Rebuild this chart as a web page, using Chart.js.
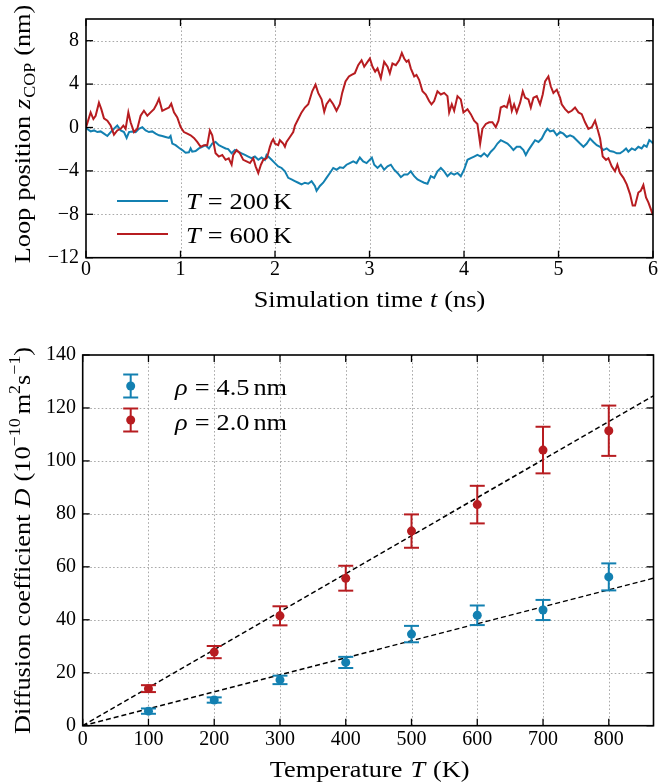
<!DOCTYPE html>
<html>
<head>
<meta charset="utf-8">
<script src="https://cdn.jsdelivr.net/npm/chart.js@4.4.1/dist/chart.umd.min.js"></script>
<style>
  html, body { margin: 0; padding: 0; background: #fff; }
  #wrap { position: relative; width: 658px; height: 783px; }
  canvas { position: absolute; left: 0; }
  #loopChart { top: 0; }
  #diffChart { top: 320px; }
</style>
</head>
<body>
<div id="wrap">
  <canvas id="loopChart" width="658" height="320"></canvas>
  <canvas id="diffChart" width="658" height="463"></canvas>
</div>
<script>
// loop position vs. time, T = 200 K
const tBlue = [0.000, 0.049, 0.085, 0.120, 0.155, 0.190, 0.226, 0.261, 0.296, 0.331, 0.367, 0.402, 0.430, 0.455, 0.490, 0.525, 0.560, 0.596, 0.631, 0.666,
  0.701, 0.737, 0.772, 0.807, 0.842, 0.878, 0.895, 0.913, 0.948, 0.983, 1.019, 1.054, 1.089, 1.107, 1.124, 1.160, 1.195, 1.230, 1.265, 1.301,
  1.336, 1.371, 1.406, 1.442, 1.477, 1.505, 1.541, 1.576, 1.611, 1.646, 1.682, 1.717, 1.752, 1.787, 1.823, 1.858, 1.893, 1.911, 1.928, 1.964,
  1.999, 2.034, 2.070, 2.105, 2.140, 2.175, 2.210, 2.246, 2.281, 2.316, 2.352, 2.387, 2.422, 2.440, 2.475, 2.510, 2.545, 2.581, 2.616, 2.651,
  2.686, 2.722, 2.757, 2.792, 2.828, 2.863, 2.898, 2.933, 2.969, 3.025, 3.050, 3.085, 3.120, 3.155, 3.191, 3.226, 3.261, 3.296, 3.332, 3.367,
  3.402, 3.437, 3.473, 3.508, 3.543, 3.578, 3.614, 3.649, 3.684, 3.719, 3.755, 3.790, 3.825, 3.860, 3.896, 3.931, 3.966, 4.001, 4.037, 4.072,
  4.107, 4.142, 4.178, 4.213, 4.248, 4.284, 4.319, 4.354, 4.389, 4.425, 4.460, 4.495, 4.523, 4.558, 4.594, 4.629, 4.654, 4.682, 4.717, 4.752,
  4.788, 4.823, 4.858, 4.883, 4.911, 4.946, 4.982, 5.017, 5.052, 5.087, 5.122, 5.158, 5.193, 5.228, 5.264, 5.299, 5.334, 5.369, 5.405, 5.440,
  5.475, 5.510, 5.545, 5.581, 5.616, 5.651, 5.686, 5.715, 5.739, 5.775, 5.810, 5.845, 5.880, 5.905, 5.933, 5.961, 5.986, 6.000];
const zBlue = [-0.06, -0.36, -0.27, -0.42, -0.36, -0.57, -0.78, -0.42, -0.12, 0.18, -0.27, -0.42, -0.96, -0.42, -0.36, -0.42, -0.12, 0.03, -0.27, -0.42,
  -0.36, -0.57, -0.72, -0.78, -0.87, -0.96, -0.78, -1.48, -1.63, -1.87, -2.08, -2.32, -2.29, -1.93, -2.23, -2.17, -1.93, -1.78, -1.63, -1.93,
  -1.48, -1.33, -1.63, -1.78, -1.93, -1.99, -2.38, -2.08, -2.23, -2.38, -2.53, -2.68, -2.83, -2.68, -2.98, -2.77, -2.98, -2.53, -2.68, -2.98,
  -3.28, -3.58, -3.73, -4.04, -4.64, -4.79, -4.94, -5.09, -5.24, -5.09, -5.18, -4.94, -5.39, -5.84, -5.39, -5.09, -4.64, -4.19, -3.73, -3.89,
  -3.67, -3.73, -3.43, -3.28, -3.13, -3.28, -2.77, -3.13, -3.28, -2.77, -3.43, -3.73, -3.43, -3.89, -3.58, -3.43, -3.89, -4.19, -4.58, -4.34,
  -4.34, -4.04, -4.49, -4.79, -4.94, -5.09, -5.18, -4.49, -4.64, -4.04, -3.73, -4.04, -4.49, -4.19, -4.34, -4.19, -4.49, -3.89, -2.98, -2.83,
  -2.68, -2.53, -2.68, -2.38, -2.68, -2.23, -1.93, -1.48, -1.17, -1.33, -1.48, -1.78, -2.08, -1.78, -1.78, -2.08, -2.53, -2.08, -1.63, -1.17,
  -1.33, -1.02, -0.42, -0.12, -0.36, -0.27, -0.72, -0.42, -0.57, -0.87, -0.72, -0.87, -1.17, -1.48, -1.78, -1.48, -1.02, -1.33, -1.63, -1.78,
  -2.08, -1.93, -2.17, -2.23, -2.38, -2.38, -2.17, -1.93, -2.23, -1.93, -2.08, -1.78, -1.93, -1.63, -1.78, -1.17, -1.33, -1.48];

// loop position vs. time, T = 600 K
const tRed = [0.000, 0.049, 0.078, 0.102, 0.137, 0.162, 0.190, 0.226, 0.261, 0.296, 0.331, 0.367, 0.395, 0.419, 0.448, 0.472, 0.508, 0.543, 0.578, 0.613,
  0.649, 0.684, 0.719, 0.747, 0.772, 0.807, 0.842, 0.878, 0.902, 0.931, 0.966, 1.001, 1.036, 1.072, 1.107, 1.142, 1.177, 1.213, 1.248, 1.283,
  1.311, 1.336, 1.371, 1.406, 1.442, 1.477, 1.510, 1.541, 1.558, 1.594, 1.629, 1.664, 1.699, 1.735, 1.770, 1.795, 1.823, 1.851, 1.876, 1.911,
  1.928, 1.946, 1.964, 1.981, 1.999, 2.034, 2.052, 2.087, 2.105, 2.122, 2.158, 2.193, 2.211, 2.246, 2.281, 2.316, 2.352, 2.394, 2.429, 2.457,
  2.493, 2.521, 2.545, 2.581, 2.616, 2.651, 2.686, 2.711, 2.746, 2.782, 2.810, 2.845, 2.880, 2.916, 2.944, 2.979, 3.004, 3.032, 3.060, 3.085,
  3.120, 3.155, 3.191, 3.215, 3.243, 3.279, 3.314, 3.342, 3.367, 3.392, 3.413, 3.437, 3.473, 3.497, 3.525, 3.561, 3.596, 3.631, 3.656, 3.684,
  3.719, 3.755, 3.790, 3.825, 3.843, 3.871, 3.896, 3.931, 3.966, 3.994, 4.037, 4.072, 4.107, 4.142, 4.171, 4.195, 4.231, 4.266, 4.301, 4.336,
  4.365, 4.389, 4.425, 4.453, 4.481, 4.506, 4.530, 4.558, 4.594, 4.622, 4.647, 4.682, 4.707, 4.735, 4.770, 4.805, 4.833, 4.858, 4.893, 4.918,
  4.946, 4.982, 5.017, 5.034, 5.070, 5.105, 5.140, 5.175, 5.211, 5.246, 5.281, 5.316, 5.352, 5.387, 5.412, 5.440, 5.468, 5.503, 5.528, 5.563,
  5.598, 5.623, 5.651, 5.687, 5.722, 5.757, 5.785, 5.810, 5.845, 5.870, 5.898, 5.926, 5.951, 5.976, 6.000];
const zRed = [0.00, 1.39, 0.78, 1.08, 2.29, 1.69, 0.84, 0.63, 0.18, -0.66, -0.27, -0.12, 0.18, -0.12, 1.39, 0.48, -0.42, -0.12, 1.08, 1.54,
  1.08, 1.39, 1.69, 2.14, 2.65, 1.54, 1.69, 1.84, 2.20, 1.39, 0.93, 0.03, -0.42, -0.57, -0.72, -0.96, -1.33, -1.78, -1.63, -1.63,
  -0.27, -0.72, -2.38, -2.68, -2.53, -2.98, -2.85, -3.43, -2.53, -2.08, -2.38, -2.98, -3.13, -3.28, -2.83, -3.58, -4.19, -3.43, -2.98, -2.83,
  -2.38, -1.78, -1.33, -1.08, -1.48, -1.63, -1.17, -1.48, -1.78, -1.33, -0.87, -0.42, 0.18, 0.78, 1.39, 1.84, 2.14, 3.34, 3.95, 3.19,
  2.59, 1.45, 2.14, 2.59, 2.14, 1.54, 2.14, 3.19, 4.25, 4.70, 4.85, 5.00, 5.75, 6.20, 5.60, 6.05, 6.36, 5.60, 5.15, 5.45,
  4.55, 6.05, 5.60, 5.00, 5.90, 5.75, 6.20, 6.87, 6.36, 6.05, 6.20, 5.45, 4.70, 4.85, 4.40, 3.34, 3.04, 2.44, 2.14, 2.44,
  3.34, 3.04, 3.19, 2.89, 1.39, 2.14, 1.54, 2.89, 2.59, 1.39, 1.69, 1.23, 0.63, 0.33, -1.48, -0.12, 0.33, 0.48, 0.48, 0.03,
  0.63, 1.84, 1.99, 1.84, 2.74, 1.54, 2.14, 1.39, 2.29, 3.34, 2.74, 2.59, 1.84, 2.74, 2.89, 2.14, 3.04, 4.25, 4.70, 3.80,
  3.19, 3.49, 2.74, 2.14, 1.69, 1.39, 1.54, 1.84, 1.39, 1.23, 0.48, -0.12, 0.03, 0.63, -0.12, -1.02, -2.68, -2.98, -2.83, -3.58,
  -4.04, -3.43, -4.19, -4.64, -5.24, -6.14, -7.20, -7.20, -5.99, -5.84, -5.30, -6.45, -6.90, -7.50, -8.10];

const timeTicks = [0, 1, 2, 3, 4, 5, 6];
const posTicks = [-12, -8, -4, 0, 4, 8];

// diffusion coefficient vs. temperature
const temps = [100, 200, 300, 400, 500, 600, 700, 800];
const dWide = [5.5, 9.7, 17.3, 23.9, 34.6, 41.7, 43.7, 56.2];      // rho = 4.5 nm
const errWide = [1.0, 1.0, 1.6, 2.1, 3.1, 3.7, 3.8, 5.1];
const dNarrow = [14.0, 27.8, 41.5, 55.7, 73.5, 83.5, 104.1, 111.4]; // rho = 2.0 nm
const errNarrow = [1.3, 2.3, 3.6, 4.7, 6.3, 7.1, 8.8, 9.5];
const fitT = [0, 868];
const fitWide = [0, 55.7];
const fitNarrow = [0, 124.6];

const tempTicks = [0, 100, 200, 300, 400, 500, 600, 700, 800];
const diffTicks = [0, 20, 40, 60, 80, 100, 120, 140];

const BLUE = '#1380b1';
const RED = '#b71c20';
const SERIF = '"Liberation Serif", "Times New Roman", serif';
const LABEL_SIZE = 23.5;
const STRETCH = 1.12; // widen the narrow Times-like glyphs a little

function pts(xs, ys) {
  return xs.map((x, i) => ({ x: x, y: ys[i] }));
}

function fmt(v) {
  return v < 0 ? '\u2212' + Math.abs(v) : String(v);
}

// mixed roman / italic / sub / sup text; third entry of a part is extra space after it
function fontFor(kind, size) {
  if (kind === 'i') return 'italic ' + size + 'px ' + SERIF;
  if (kind === 'sub' || kind === 'sup') return Math.round(size * 0.68) + 'px ' + SERIF;
  return size + 'px ' + SERIF;
}

function richWidth(ctx, parts, size) {
  let w = 0;
  parts.forEach(([text, kind, gap]) => {
    ctx.font = fontFor(kind, size);
    w += ctx.measureText(text).width * STRETCH + (gap || 0);
  });
  return w;
}

function drawRich(ctx, parts, size, x, y, align) {
  let cx = align === 'center' ? x - richWidth(ctx, parts, size) / 2 : x;
  ctx.textAlign = 'left';
  ctx.textBaseline = 'alphabetic';
  ctx.fillStyle = '#000';
  parts.forEach(([text, kind, gap]) => {
    ctx.font = fontFor(kind, size);
    let dy = 0;
    if (kind === 'sub') dy = size * 0.22;
    if (kind === 'sup') dy = -size * 0.4;
    ctx.save();
    ctx.translate(cx, y + dy);
    ctx.scale(STRETCH, 1);
    ctx.fillText(text, 0, 0);
    ctx.restore();
    cx += ctx.measureText(text).width * STRETCH + (gap || 0);
  });
}

function line(ctx, x1, y1, x2, y2) {
  ctx.beginPath();
  ctx.moveTo(x1, y1);
  ctx.lineTo(x2, y2);
  ctx.stroke();
}

// dotted grid under the data
const dotGrid = {
  id: 'dotGrid',
  beforeDatasetsDraw(chart) {
    const { ctx, chartArea: a, scales: { x, y } } = chart;
    ctx.save();
    ctx.strokeStyle = '#a9a9a9';
    ctx.lineWidth = 1;
    ctx.setLineDash([1.6, 2.2]);
    x.ticks.forEach((t) => {
      const px = Math.round(x.getPixelForValue(t.value)) + 0.5;
      if (px > a.left + 1 && px < a.right - 1) line(ctx, px, a.top, px, a.bottom);
    });
    y.ticks.forEach((t) => {
      const py = Math.round(y.getPixelForValue(t.value)) + 0.5;
      if (py > a.top + 1 && py < a.bottom - 1) line(ctx, a.left, py, a.right, py);
    });
    ctx.restore();
  },
};

// box around the plot with inward ticks on all four sides
const framePlugin = {
  id: 'frame',
  afterDraw(chart) {
    const { ctx, chartArea: a, scales: { x, y } } = chart;
    ctx.save();
    ctx.strokeStyle = '#000';
    ctx.lineWidth = 1.3;
    x.ticks.forEach((t) => {
      const px = x.getPixelForValue(t.value);
      line(ctx, px, a.bottom, px, a.bottom - 7);
      line(ctx, px, a.top, px, a.top + 7);
    });
    y.ticks.forEach((t) => {
      const py = y.getPixelForValue(t.value);
      line(ctx, a.left, py, a.left + 7, py);
      line(ctx, a.right, py, a.right - 7, py);
    });
    ctx.lineWidth = 1.6;
    ctx.strokeRect(a.left, a.top, a.right - a.left, a.bottom - a.top);
    ctx.restore();
  },
};

function axisOpts(min, max, tickList, pad) {
  return {
    type: 'linear',
    min: min,
    max: max,
    afterBuildTicks: (s) => {
      s.ticks = tickList.map((v) => ({ value: v }));
    },
    grid: { drawOnChartArea: false, drawTicks: false },
    border: { display: false },
    ticks: {
      padding: pad,
      color: '#000',
      font: { family: SERIF, size: 20 },
      callback: fmt,
    },
  };
}

// ---- top panel ----
const loopX = axisOpts(0, 6, timeTicks, 0);
loopX.afterFit = (s) => { s.height = 320 - 257.7; };
const loopY = axisOpts(-12, 10, posTicks, 7);
loopY.afterFit = (s) => { s.width = 86; };

const loopLabels = {
  id: 'loopLabels',
  afterDraw(chart) {
    const ctx = chart.ctx;
    ctx.save();
    drawRich(ctx, [['Simulation', 'r', 7], ['time', 'r', 7], ['t', 'i', 7], ['(ns)', 'r']], LABEL_SIZE, 369.5, 307, 'center');
    ctx.translate(29.5, 134);
    ctx.rotate(-Math.PI / 2);
    drawRich(ctx, [['Loop', 'r', 7], ['position', 'r', 7], ['z', 'i', 1], ['COP', 'sub', 7], ['(nm)', 'r']], LABEL_SIZE, 0, 0, 'center');
    ctx.restore();

    // legend
    ctx.save();
    ctx.lineWidth = 2;
    ctx.strokeStyle = BLUE;
    line(ctx, 117, 201, 168, 201);
    ctx.strokeStyle = RED;
    line(ctx, 117, 234, 168, 234);
    drawRich(ctx, [['T', 'i', 7], ['=', 'r', 7], ['200', 'r', 4], ['K', 'r']], LABEL_SIZE, 186, 208.5, 'left');
    drawRich(ctx, [['T', 'i', 7], ['=', 'r', 7], ['600', 'r', 4], ['K', 'r']], LABEL_SIZE, 186, 243, 'left');
    ctx.restore();
  },
};

new Chart(document.getElementById('loopChart'), {
  type: 'line',
  data: {
    datasets: [
      { label: 'T = 200 K', data: pts(tBlue, zBlue), borderColor: BLUE, borderWidth: 2, pointRadius: 0, tension: 0, order: 1 },
      { label: 'T = 600 K', data: pts(tRed, zRed), borderColor: RED, borderWidth: 2, pointRadius: 0, tension: 0, order: 0 },
    ],
  },
  options: {
    responsive: false,
    animation: false,
    devicePixelRatio: 1,
    parsing: false,
    layout: { padding: { top: 14.5, right: 4.7, left: 0, bottom: 0 } },
    plugins: { legend: { display: false }, tooltip: { enabled: false } },
    scales: { x: loopX, y: loopY },
  },
  plugins: [dotGrid, framePlugin, loopLabels],
});

// ---- bottom panel ----
const diffX = axisOpts(0, 868, tempTicks, 2.3);
diffX.afterFit = (s) => { s.height = 463 - 405.7; };
const diffY = axisOpts(0, 140, diffTicks, 6.7);
diffY.afterFit = (s) => { s.width = 82.7; };

function errorBar(ctx, x, yTop, yBot, color) {
  ctx.strokeStyle = color;
  ctx.lineWidth = 2;
  line(ctx, x, yTop, x, yBot);
  line(ctx, x - 7.5, yTop, x + 7.5, yTop);
  line(ctx, x - 7.5, yBot, x + 7.5, yBot);
}

const errorBars = {
  id: 'errorBars',
  beforeDatasetDraw(chart, args) {
    const ds = chart.data.datasets[args.index];
    if (!ds.errors) return;
    const { ctx, scales: { x, y } } = chart;
    ctx.save();
    ds.data.forEach((p, i) => {
      const px = x.getPixelForValue(p.x);
      errorBar(ctx, px, y.getPixelForValue(p.y + ds.errors[i]), y.getPixelForValue(p.y - ds.errors[i]), ds.backgroundColor);
    });
    ctx.restore();
  },
};

const diffLabels = {
  id: 'diffLabels',
  afterDraw(chart) {
    const ctx = chart.ctx;
    ctx.save();
    drawRich(ctx, [['Temperature', 'r', 8], ['T', 'i', 8], ['(K)', 'r']], LABEL_SIZE, 369.7, 457, 'center');
    ctx.translate(29.5, 220.4);
    ctx.rotate(-Math.PI / 2);
    drawRich(ctx, [['Diffusion', 'r', 7], ['coefficient', 'r', 7], ['D', 'i', 7], ['(10', 'r'], ['\u221210', 'sup', 4],
      ['m', 'r'], ['2', 'sup'], ['s', 'r'], ['\u22121', 'sup'], [')', 'r']], LABEL_SIZE, 0, 0, 'center');
    ctx.restore();

    // legend
    ctx.save();
    [[BLUE, 66, '4.5', 75], [RED, 100, '2.0', 110]].forEach(([c, cy, r, base]) => {
      errorBar(ctx, 130.7, cy - 11.5, cy + 11.5, c);
      ctx.fillStyle = c;
      ctx.beginPath();
      ctx.arc(130.7, cy, 4.5, 0, Math.PI * 2);
      ctx.fill();
      drawRich(ctx, [['\u03c1', 'i', 7], ['=', 'r', 7], [r, 'r', 4], ['nm', 'r']], LABEL_SIZE, 175, base, 'left');
    });
    ctx.restore();
  },
};

new Chart(document.getElementById('diffChart'), {
  type: 'scatter',
  data: {
    datasets: [
      { label: 'rho = 4.5 nm', data: pts(temps, dWide), errors: errWide, backgroundColor: BLUE, borderWidth: 0, pointRadius: 4.5, order: 1 },
      { label: 'rho = 2.0 nm', data: pts(temps, dNarrow), errors: errNarrow, backgroundColor: RED, borderWidth: 0, pointRadius: 4.5, order: 0 },
      { type: 'line', data: pts(fitT, fitWide), borderColor: '#000', borderWidth: 1.5, borderDash: [5, 3], pointRadius: 0, order: 3 },
      { type: 'line', data: pts(fitT, fitNarrow), borderColor: '#000', borderWidth: 1.5, borderDash: [5, 3], pointRadius: 0, order: 3 },
    ],
  },
  options: {
    responsive: false,
    animation: false,
    devicePixelRatio: 1,
    layout: { padding: { top: 35, right: 1.3, left: 0, bottom: 0 } },
    plugins: { legend: { display: false }, tooltip: { enabled: false } },
    scales: { x: diffX, y: diffY },
  },
  plugins: [dotGrid, errorBars, framePlugin, diffLabels],
});
</script>
</body>
</html>
